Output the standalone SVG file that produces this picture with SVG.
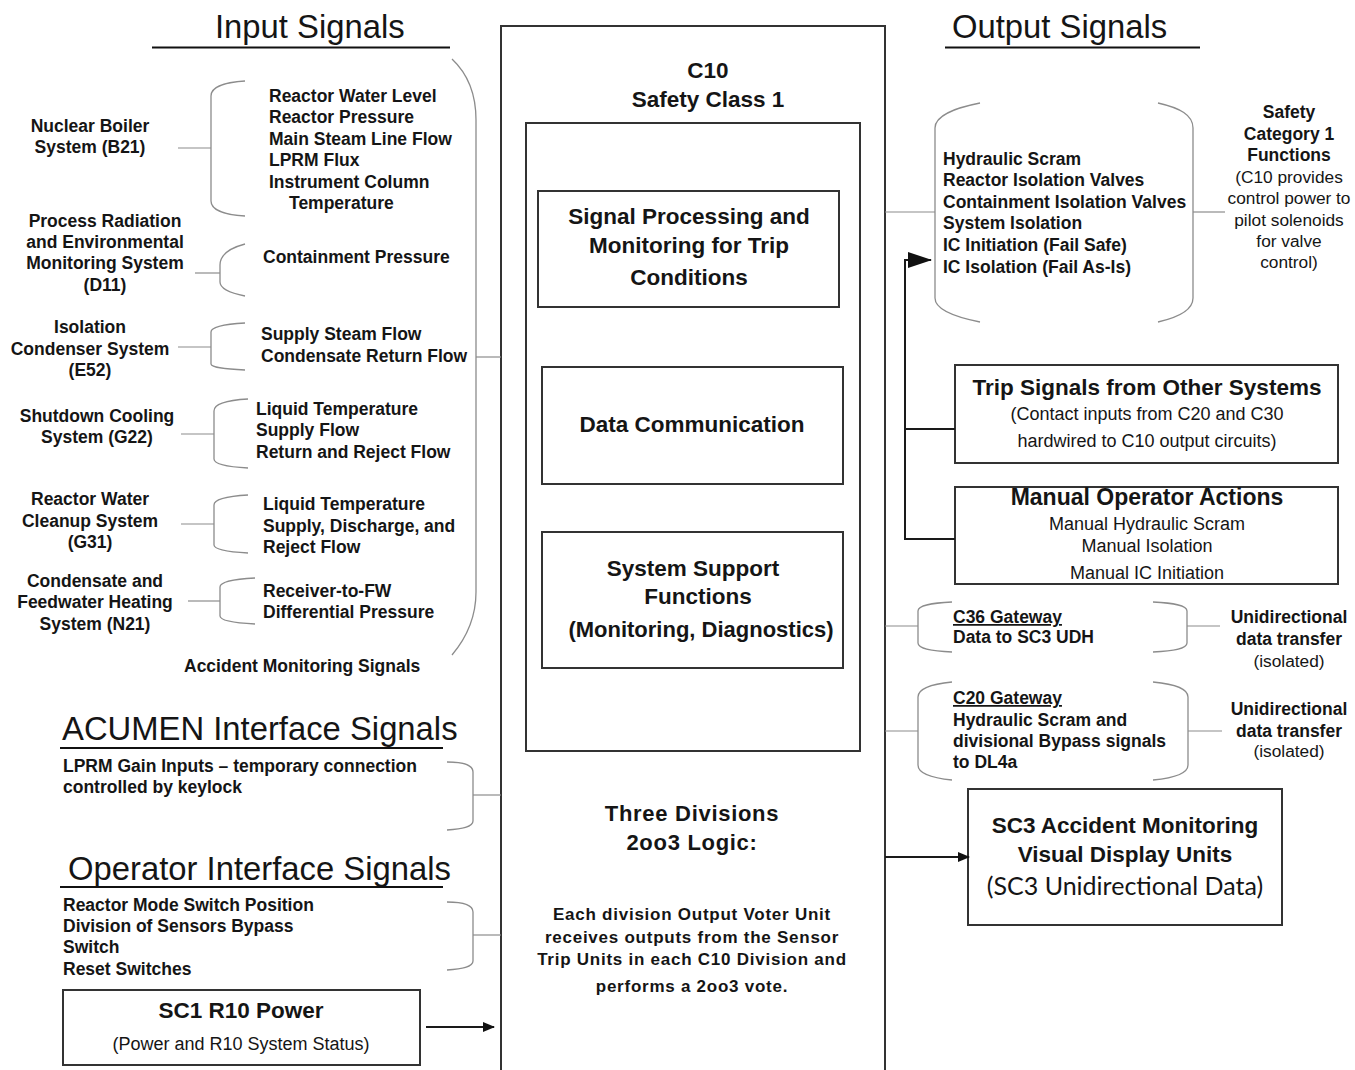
<svg xmlns="http://www.w3.org/2000/svg" width="1355" height="1070" viewBox="0 0 1355 1070">
  <defs>
    <style>
      text { font-family: "Liberation Sans", Arial, sans-serif; fill: #151515; }
      .b { font-weight: bold; font-size: 17.5px; }
      .r { font-size: 17.3px; }
      .rm { font-size: 18px; }
      .t23 { font-weight: bold; font-size: 22.5px; }
      .h { font-size: 32.8px; }
      .c { text-anchor: middle; }
      .u { text-decoration: underline; }
      .box { fill: none; stroke: #333; stroke-width: 2; }
      .brk { fill: none; stroke: #8c8c8c; stroke-width: 1.3; }
      .thin { fill: none; stroke: #8c8c8c; stroke-width: 1.2; }
      .wire { fill: none; stroke: #1a1a1a; stroke-width: 2; }
      .rule { stroke: #111; stroke-width: 2.2; }
    </style>
    <marker id="ah" markerWidth="12" markerHeight="10" refX="11" refY="5" orient="auto" markerUnits="userSpaceOnUse">
      <path d="M0,0 L12,5 L0,10 Z" fill="#111"/>
    </marker>
    <marker id="ahBig" markerWidth="24" markerHeight="16" refX="23" refY="8" orient="auto" markerUnits="userSpaceOnUse">
      <path d="M0,0 L24,8 L0,16 Z" fill="#111"/>
    </marker>
  </defs>

  <rect width="1355" height="1070" fill="#fff"/>

  <!-- Section headings -->
  <g id="headings">
    <text class="h" x="215" y="38">Input Signals</text>
    <line class="rule" x1="152" y1="47.5" x2="450" y2="47.5"/>
    <text class="h" x="952" y="38">Output Signals</text>
    <line class="rule" x1="945" y1="47.5" x2="1200" y2="47.5"/>
    <text class="h" x="62" y="740">ACUMEN Interface Signals</text>
    <line class="rule" x1="60" y1="748" x2="443" y2="748"/>
    <text class="h" x="68" y="880">Operator Interface Signals</text>
    <line class="rule" x1="60" y1="887" x2="443" y2="887"/>
  </g>

  <!-- C10 cabinet -->
  <g id="c10">
    <path class="box" d="M501,1075 V26 H885 V1075"/>
    <text class="t23 c" x="708" y="78">C10</text>
    <text class="t23 c" x="708" y="107">Safety Class 1</text>
    <rect class="box" x="526" y="123" width="334" height="628"/>
    <text class="b c" x="692" y="821" style="font-size:22px;letter-spacing:0.7px">Three Divisions</text>
    <text class="b c" x="692" y="850" style="font-size:22px;letter-spacing:0.7px">2oo3 Logic:</text>
    <text class="b c" x="692" y="920" style="font-size:17px;letter-spacing:0.75px">Each division Output Voter Unit</text>
    <text class="b c" x="692" y="943" style="font-size:17px;letter-spacing:0.75px">receives outputs from the Sensor</text>
    <text class="b c" x="692" y="965" style="font-size:17px;letter-spacing:0.75px">Trip Units in each C10 Division and</text>
    <text class="b c" x="692" y="992" style="font-size:17px;letter-spacing:0.75px">performs a 2oo3 vote.</text>
  </g>

  <g id="signal-processing">
    <rect class="box" x="538" y="191" width="301" height="116"/>
    <text class="t23 c" x="689" y="224">Signal Processing and</text>
    <text class="t23 c" x="689" y="253">Monitoring for Trip</text>
    <text class="t23 c" x="689" y="285">Conditions</text>
  </g>

  <g id="data-communication">
    <rect class="box" x="542" y="367" width="301" height="117"/>
    <text class="t23 c" x="692" y="432">Data Communication</text>
  </g>

  <g id="system-support">
    <rect class="box" x="542" y="532" width="301" height="136"/>
    <text class="t23 c" x="693" y="576">System Support</text>
    <text class="t23 c" x="698" y="604">Functions</text>
    <text class="t23 c" x="701" y="637" style="font-size:22px">(Monitoring, Diagnostics)</text>
  </g>

  <!-- Input systems -->
  <g id="b21">
    <text class="b c" x="90" y="132">Nuclear Boiler</text>
    <text class="b c" x="90" y="153">System (B21)</text>
    <path class="brk" d="M245,81 C228,82 211,86 211,96 V201 C211,211 228,215 245,216"/>
    <text class="b" x="269" y="102">Reactor Water Level</text>
    <text class="b" x="269" y="123">Reactor Pressure</text>
    <text class="b" x="269" y="145">Main Steam Line Flow</text>
    <text class="b" x="269" y="166">LPRM Flux</text>
    <text class="b" x="269" y="188">Instrument Column</text>
    <text class="b" x="289" y="209">Temperature</text>
  </g>

  <g id="d11">
    <text class="b c" x="105" y="227">Process Radiation</text>
    <text class="b c" x="105" y="248">and Environmental</text>
    <text class="b c" x="105" y="269">Monitoring System</text>
    <text class="b c" x="105" y="291">(D11)</text>
    <path class="brk" d="M245,244 C230,248 220,255 220,265 V282 C220,289 230,293 245,296"/>
    <text class="b" x="263" y="263">Containment Pressure</text>
  </g>

  <g id="e52">
    <text class="b c" x="90" y="333">Isolation</text>
    <text class="b c" x="90" y="355">Condenser System</text>
    <text class="b c" x="90" y="376">(E52)</text>
    <path class="brk" d="M245,323 C228,324 211,326 211,332 V364 C211,368 228,369 245,370"/>
    <text class="b" x="261" y="340">Supply Steam Flow</text>
    <text class="b" x="261" y="362">Condensate Return Flow</text>
  </g>

  <g id="g22">
    <text class="b c" x="97" y="422">Shutdown Cooling</text>
    <text class="b c" x="97" y="443">System (G22)</text>
    <path class="brk" d="M248,399 C230,400 214,403 214,411 V459 C214,465 230,467 248,468"/>
    <text class="b" x="256" y="415">Liquid Temperature</text>
    <text class="b" x="256" y="436">Supply Flow</text>
    <text class="b" x="256" y="458">Return and Reject Flow</text>
  </g>

  <g id="g31">
    <text class="b c" x="90" y="505">Reactor Water</text>
    <text class="b c" x="90" y="527">Cleanup System</text>
    <text class="b c" x="90" y="548">(G31)</text>
    <path class="brk" d="M248,495 C230,496 214,499 214,505 V545 C214,550 230,552 248,553"/>
    <text class="b" x="263" y="510">Liquid Temperature</text>
    <text class="b" x="263" y="532">Supply, Discharge, and</text>
    <text class="b" x="263" y="553">Reject Flow</text>
  </g>

  <g id="n21">
    <text class="b c" x="95" y="587">Condensate and</text>
    <text class="b c" x="95" y="608">Feedwater Heating</text>
    <text class="b c" x="95" y="630">System (N21)</text>
    <path class="brk" d="M255,578 C236,579 220,581 220,587 V616 C220,621 236,623 255,624"/>
    <text class="b" x="263" y="597">Receiver-to-FW</text>
    <text class="b" x="263" y="618">Differential Pressure</text>
  </g>

  <g id="accident-monitoring">
    <path class="brk" d="M452,59 C468,74 476,95 476,120 V592 C476,616 468,636 452,655"/>
    <text class="b" x="184" y="672">Accident Monitoring Signals</text>
  </g>

  <g id="acumen">
    <text class="b" x="63" y="772">LPRM Gain Inputs – temporary connection</text>
    <text class="b" x="63" y="793">controlled by keylock</text>
    <path class="brk" d="M447,762 C462,762 473,764 473,772 V821 C473,827 462,829 447,830"/>
  </g>

  <g id="operator">
    <text class="b" x="63" y="911">Reactor Mode Switch Position</text>
    <text class="b" x="63" y="932">Division of Sensors Bypass</text>
    <text class="b" x="63" y="953">Switch</text>
    <text class="b" x="63" y="975">Reset Switches</text>
    <path class="brk" d="M447,902 C462,902 473,904 473,912 V961 C473,967 462,969 447,970"/>
  </g>

  <g id="sc1-power">
    <rect class="box" x="63" y="990" width="357" height="75"/>
    <text class="t23 c" x="241" y="1018">SC1 R10 Power</text>
    <text class="rm c" x="241" y="1050">(Power and R10 System Status)</text>
  </g>

  <!-- Output side -->
  <g id="outputs">
    <path class="brk" d="M980,103 C955,108 935,115 935,128 V298 C935,310 955,317 980,322"/>
    <path class="brk" d="M1158,103 C1180,108 1193,115 1193,128 V298 C1193,310 1180,317 1158,322"/>
    <text class="b" x="943" y="165">Hydraulic Scram</text>
    <text class="b" x="943" y="186">Reactor Isolation Valves</text>
    <text class="b" x="943" y="208">Containment Isolation Valves</text>
    <text class="b" x="943" y="229">System Isolation</text>
    <text class="b" x="943" y="251">IC Initiation (Fail Safe)</text>
    <text class="b" x="943" y="273">IC Isolation (Fail As-Is)</text>
  </g>

  <g id="safety-category">
    <text class="b c" x="1289" y="118">Safety</text>
    <text class="b c" x="1289" y="140">Category 1</text>
    <text class="b c" x="1289" y="161">Functions</text>
    <text class="r c" x="1289" y="183">(C10 provides</text>
    <text class="r c" x="1289" y="204">control power to</text>
    <text class="r c" x="1289" y="226">pilot solenoids</text>
    <text class="r c" x="1289" y="247">for valve</text>
    <text class="r c" x="1289" y="268">control)</text>
  </g>

  <g id="trip-signals">
    <rect class="box" x="955" y="365" width="383" height="98"/>
    <text class="t23 c" x="1147" y="395">Trip Signals from Other Systems</text>
    <text class="rm c" x="1147" y="420">(Contact inputs from C20 and C30</text>
    <text class="rm c" x="1147" y="447">hardwired to C10 output circuits)</text>
  </g>

  <g id="manual-actions">
    <rect class="box" x="955" y="487" width="383" height="97"/>
    <text class="t23 c" x="1147" y="505" style="font-size:23px">Manual Operator Actions</text>
    <text class="rm c" x="1147" y="530">Manual Hydraulic Scram</text>
    <text class="rm c" x="1147" y="552">Manual Isolation</text>
    <text class="rm c" x="1147" y="579">Manual IC Initiation</text>
  </g>

  <g id="c36-gateway">
    <path class="brk" d="M952,602 C932,603 918,605 918,611 V643 C918,649 932,651 952,652"/>
    <path class="brk" d="M1153,602 C1173,603 1187,605 1187,611 V643 C1187,649 1173,651 1153,652"/>
    <text class="b u" x="953" y="623">C36 Gateway</text>
    <text class="b" x="953" y="643">Data to SC3 UDH</text>
    <text class="b c" x="1289" y="623">Unidirectional</text>
    <text class="b c" x="1289" y="645">data transfer</text>
    <text class="r c" x="1289" y="667">(isolated)</text>
  </g>

  <g id="c20-gateway">
    <path class="brk" d="M952,682 C932,684 918,688 918,697 V765 C918,774 932,778 952,780"/>
    <path class="brk" d="M1153,682 C1174,684 1188,688 1188,697 V765 C1188,774 1174,778 1153,780"/>
    <text class="b u" x="953" y="704">C20 Gateway</text>
    <text class="b" x="953" y="726">Hydraulic Scram and</text>
    <text class="b" x="953" y="747">divisional Bypass signals</text>
    <text class="b" x="953" y="768">to DL4a</text>
    <text class="b c" x="1289" y="715">Unidirectional</text>
    <text class="b c" x="1289" y="737">data transfer</text>
    <text class="r c" x="1289" y="757">(isolated)</text>
  </g>

  <g id="sc3-display">
    <rect class="box" x="968" y="789" width="314" height="136"/>
    <text class="t23 c" x="1125" y="833">SC3 Accident Monitoring</text>
    <text class="t23 c" x="1125" y="862">Visual Display Units</text>
    <text class="c" x="1125" y="895" style="font-family:Lato,'Open Sans',sans-serif;font-size:25px">(SC3 Unidirectional Data)</text>
  </g>

  <!-- Connectors -->
  <g id="connectors">
    <line class="thin" x1="178" y1="148" x2="211" y2="148"/>
    <line class="thin" x1="195" y1="273" x2="220" y2="273"/>
    <line class="thin" x1="178" y1="347" x2="211" y2="347"/>
    <line class="thin" x1="181" y1="434" x2="214" y2="434"/>
    <line class="thin" x1="181" y1="524" x2="214" y2="524"/>
    <line class="thin" x1="188" y1="601" x2="220" y2="601"/>
    <line class="thin" x1="476" y1="357" x2="501" y2="357"/>
    <line class="thin" x1="473" y1="795" x2="501" y2="795"/>
    <line class="thin" x1="473" y1="935" x2="501" y2="935"/>
    <line class="thin" x1="885" y1="212" x2="935" y2="212"/>
    <line class="thin" x1="1193" y1="212" x2="1225" y2="212"/>
    <line class="thin" x1="885" y1="626" x2="918" y2="626"/>
    <line class="thin" x1="1187" y1="626" x2="1220" y2="626"/>
    <line class="thin" x1="885" y1="731" x2="918" y2="731"/>
    <line class="thin" x1="1188" y1="731" x2="1222" y2="731"/>
    <path class="wire" d="M955,539 H905 V260 H931" marker-end="url(#ahBig)"/>
    <line class="wire" x1="905" y1="429" x2="955" y2="429"/>
    <line class="wire" x1="426" y1="1027" x2="494" y2="1027" marker-end="url(#ah)"/>
    <line class="wire" x1="885" y1="857" x2="969" y2="857" marker-end="url(#ah)"/>
  </g>
</svg>
